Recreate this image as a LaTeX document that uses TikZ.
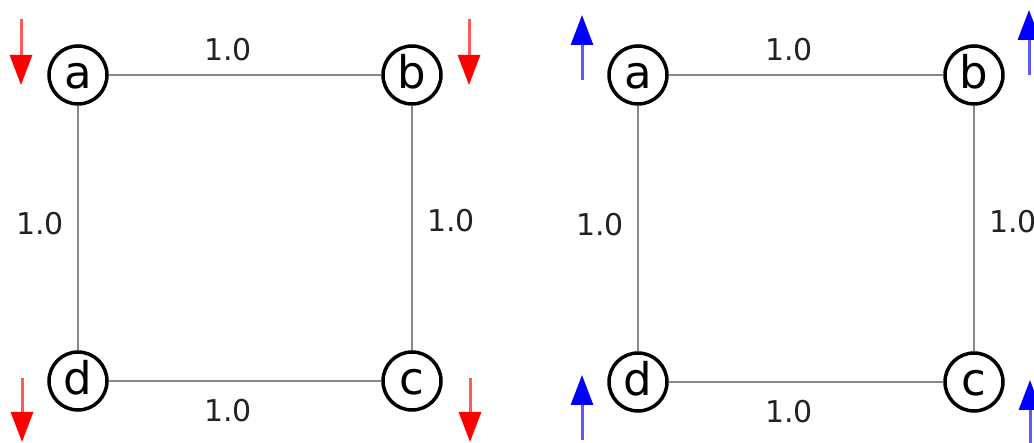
\documentclass[tikz,border=0pt]{standalone}
\usepackage{fontspec}
\setmainfont{DejaVu Sans}
\usetikzlibrary{arrows.meta}

\definecolor{edgegray}{HTML}{888888}
\definecolor{labelgray}{HTML}{222222}

\tikzset{
  site/.style={draw, circle, line width=3.5pt, inner sep=0pt, minimum size=58pt,
    text height=34pt, text depth=6pt, font=\fontsize{45}{45}\selectfont},
  bond/.style={draw=edgegray, line width=2pt},
  weight/.style={text=labelgray, inner sep=0pt, font=\fontsize{30}{30}\selectfont},
  spindown/.style={draw=red!65, line width=3pt, -{Triangle[length=30pt,width=22pt,color=red]}},
  spinup/.style={draw=blue!65, line width=3pt, -{Triangle[length=30pt,width=22pt,color=blue]}}
}

\begin{document}
\begin{tikzpicture}[x=1pt, y=-1pt]
    \useasboundingbox (0,0) rectangle (1034,443);

    % Draw left square sites
    \node[site] at (78, 75) (la) {a};
    \node[site] at (412, 75) (lb) {b};
    \node[site] at (412, 381) (lc) {c};
    \node[site] at (78, 381) (ld) {d};

    % Draw left square bonds and weights
    \draw[bond] (la) -- (lb) node[midway, above=13pt, xshift=-17pt, weight] {1.0};
    \draw[bond] (lb) -- (lc) node[midway, right=14pt, yshift=7pt, weight] {1.0};
    \draw[bond] (ld) -- (lc) node[midway, below=17pt, xshift=-17pt, weight] {1.0};
    \draw[bond] (la) -- (ld) node[midway, left=13pt, yshift=4pt, weight] {1.0};

    % Draw right square sites
    \node[site] at (638, 75) (ra) {a};
    \node[site] at (974, 75) (rb) {b};
    \node[site] at (974, 382) (rc) {c};
    \node[site] at (638, 382) (rd) {d};

    % Draw right square bonds and weights
    \draw[bond] (ra) -- (rb) node[midway, above=13pt, xshift=-17pt, weight] {1.0};
    \draw[bond] (rb) -- (rc) node[midway, right=14pt, yshift=7pt, weight] {1.0};
    \draw[bond] (rd) -- (rc) node[midway, below=17pt, xshift=-17pt, weight] {1.0};
    \draw[bond] (ra) -- (rd) node[midway, left=13pt, yshift=4pt, weight] {1.0};

    % Spin arrows, left square (down)
    \coordinate (la top) at (21, 19);   \coordinate (la tip) at (21, 85);
    \coordinate (lb top) at (469, 19);  \coordinate (lb tip) at (469, 85);
    \coordinate (lc top) at (470, 378); \coordinate (lc tip) at (470, 442);
    \coordinate (ld top) at (22, 378);  \coordinate (ld tip) at (22, 442);
    \draw[spindown] (la top) -- (la tip);
    \draw[spindown] (lb top) -- (lb tip);
    \draw[spindown] (lc top) -- (lc tip);
    \draw[spindown] (ld top) -- (ld tip);

    % Spin arrows, right square (up)
    \coordinate (ra foot) at (582, 80);   \coordinate (ra tip) at (582, 15);
    \coordinate (rb foot) at (1029, 75);  \coordinate (rb tip) at (1029, 10);
    \coordinate (rc foot) at (1030, 445); \coordinate (rc tip) at (1030, 380);
    \coordinate (rd foot) at (582, 440);  \coordinate (rd tip) at (582, 375);
    \draw[spinup] (ra foot) -- (ra tip);
    \draw[spinup] (rb foot) -- (rb tip);
    \draw[spinup] (rc foot) -- (rc tip);
    \draw[spinup] (rd foot) -- (rd tip);
\end{tikzpicture}
\end{document}
